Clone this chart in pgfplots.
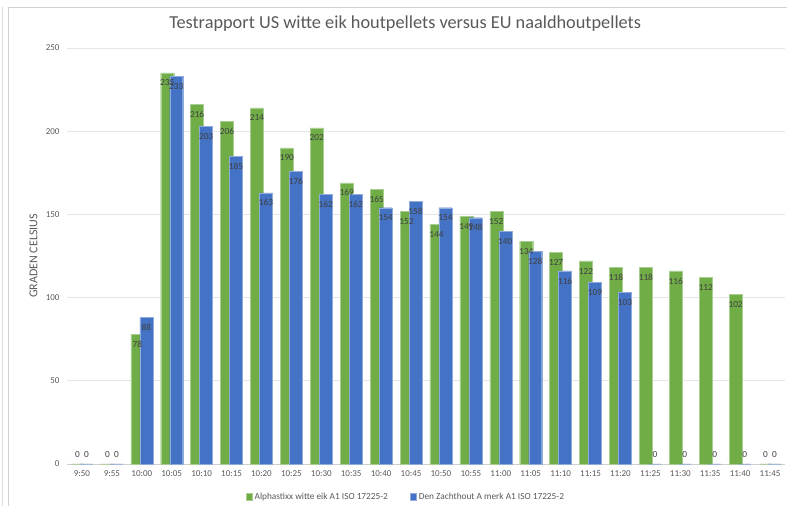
\documentclass[border=0pt]{standalone}
\usepackage{pgfplots}
\pgfplotsset{compat=1.18}
\usepackage{fontspec}
\setmainfont{Carlito}
\definecolor{xgreen}{HTML}{70AD47}
\definecolor{xblue}{HTML}{4472C4}
\definecolor{txtgray}{HTML}{595959}
\definecolor{lblgray}{HTML}{404040}
\definecolor{gridgray}{HTML}{E6E6E6}
\definecolor{framegray}{HTML}{D0D0D0}
\begin{document}
\begin{tikzpicture}[x=1pt,y=1pt]
\useasboundingbox (0,0) rectangle (787,506);
% panel frame
\draw[framegray, line width=0.8pt] (8,0) -- (8,499) -- (787,499);
\draw[framegray!70, line width=0.6pt] (2,0) -- (2,499);
\begin{axis}[
  at={(67pt,42pt)}, anchor=south west,
  scale only axis, width=718pt, height=416pt,
  ybar,
  bar width=13pt,
  xmin=-0.5, xmax=23.5,
  ymin=0, ymax=250,
  ytick={0,50,...,250},
  xtick={0,...,23},
  xticklabels={9:50,9:55,10:00,10:05,10:10,10:15,10:20,10:25,10:30,10:35,10:40,10:45,10:50,10:55,11:00,11:05,11:10,11:15,11:20,11:25,11:30,11:35,11:40,11:45},
  major tick length=0pt,
  ymajorgrids,
  grid style={gridgray, line width=0.6pt},
  axis lines*=left,
  x axis line style={framegray, line width=0.8pt, -},
  y axis line style={draw=none},
  ticklabel style={font=\fontsize{9}{10}\selectfont, text=txtgray},
  /pgf/number format/assume math mode=true,
  yticklabel style={xshift=-4pt},
  xticklabel style={yshift=-3pt},
  ylabel={GRADEN CELSIUS},
  every axis y label/.style={at={(ticklabel* cs:0.5)}, rotate=90, anchor=south,
    yshift=26pt, font=\fontsize{12}{14}\selectfont, text=txtgray},
  title={Testrapport US witte eik houtpellets versus EU naaldhoutpellets},
  title style={font=\fontsize{18.3}{21}\selectfont, text=txtgray, at={(0.471,1)}, anchor=south, yshift=7pt},
  legend style={at={(0.472,-0.079)}, anchor=center, draw=none, legend columns=2,
    font=\fontsize{9.3}{11}\selectfont, text=txtgray,
    /tikz/every even column/.append style={column sep=20pt}},
  legend image code/.code={\fill[#1] (0pt,-3.2pt) rectangle (6.5pt,3.2pt);},
  nodes near coords,
  visualization depends on={y \as \rawy},
  every node near coord/.append style={font=\fontsize{9.3}{10}\selectfont, text=lblgray,
    anchor=center, yshift={ifthenelse(\rawy>0,-10,9)}},
  clip=false,
]
\addplot[bar shift=-4.5pt, fill=xgreen, draw=xgreen!60!white, line width=0.4pt] coordinates {
(0,0) (1,0) (2,78) (3,235) (4,216) (5,206) (6,214) (7,190) (8,202) (9,169) (10,165) (11,152)
(12,144) (13,149) (14,152) (15,134) (16,127) (17,122) (18,118) (19,118) (20,116) (21,112) (22,102) (23,0)};
\addlegendentry{Alphastixx witte eik A1 ISO 17225-2}
\addplot[bar shift=4.5pt, fill=xblue, draw=xblue!60!white, line width=0.4pt] coordinates {
(0,0) (1,0) (2,88) (3,233) (4,203) (5,185) (6,163) (7,176) (8,162) (9,162) (10,154) (11,158)
(12,154) (13,148) (14,140) (15,128) (16,116) (17,109) (18,103) (19,0) (20,0) (21,0) (22,0) (23,0)};
\addlegendentry{Den Zachthout A merk A1 ISO 17225-2}
\end{axis}
\end{tikzpicture}
\end{document}
